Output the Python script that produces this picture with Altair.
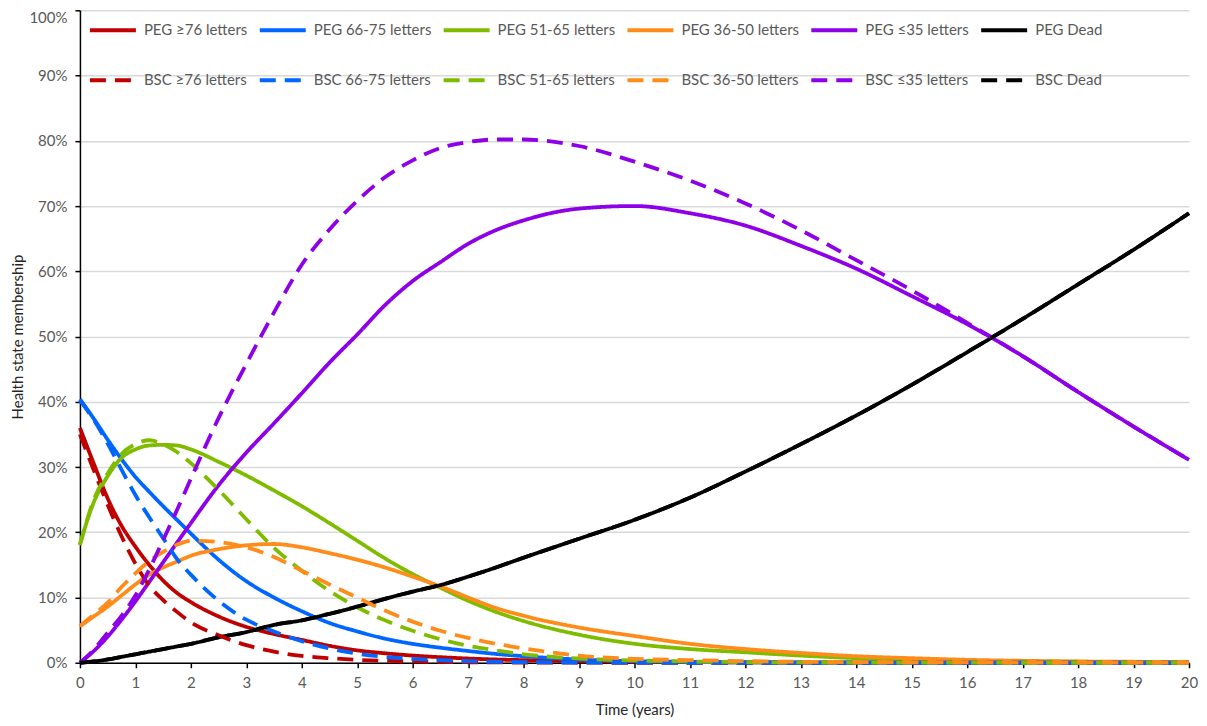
import altair as alt
import pandas as pd

# ---- data (percent of cohort) ----
time = [0, 0.25, 0.5, 0.75, 1, 1.25, 1.5, 1.75, 2, 2.5, 3, 3.5, 4, 4.5, 5, 5.5, 6, 6.5, 7, 7.5, 8,
        9, 10, 11, 12, 13, 14, 15, 16, 17, 18, 19, 20]

peg_76 = [36, 30.5, 25.2, 21.0, 17.8, 15.0, 12.6, 10.7, 9.3, 7.1, 5.5, 4.4, 3.5, 2.6, 1.9, 1.45, 1.1, 0.85, 0.65, 0.5, 0.4,
          0.25, 0.15, 0.1, 0.05, 0.03, 0.02, 0.01, 0, 0, 0, 0, 0]
peg_66 = [40.4, 37.4, 34.2, 31.2, 28.5, 26.2, 24.0, 21.9, 19.8, 15.8, 12.5, 10.0, 7.9, 6.1, 4.8, 3.7, 2.9, 2.3, 1.8, 1.35, 1.0,
          0.5, 0.25, 0.12, 0.06, 0.03, 0.01, 0, 0, 0, 0, 0, 0]
peg_51 = [18.2, 24.6, 28.6, 31.4, 32.7, 33.3, 33.4, 33.3, 32.7, 30.8, 28.7, 26.4, 24.0, 21.4, 18.7, 16.0, 13.6, 11.5, 9.5, 7.8, 6.4,
          4.3, 2.9, 2.1, 1.6, 1.1, 0.7, 0.45, 0.3, 0.2, 0.15, 0.1, 0.1]
peg_36 = [5.6, 7.1, 8.6, 10.3, 12.0, 13.5, 14.6, 15.5, 16.4, 17.4, 18.0, 18.2, 17.7, 16.8, 15.8, 14.6, 13.2, 11.7, 10.0, 8.4, 7.2,
          5.4, 4.1, 2.9, 2.1, 1.5, 1.0, 0.7, 0.45, 0.3, 0.2, 0.15, 0.1]
peg_35 = [0, 1.8, 4.0, 6.6, 9.4, 12.4, 15.4, 18.4, 21.4, 27.2, 32.2, 36.7, 41.3, 46.0, 50.3, 54.8, 58.5, 61.4, 64.2, 66.3, 67.8,
          69.6, 70.0, 68.9, 67.0, 63.9, 60.4, 56.2, 51.9, 47.0, 41.5, 36.2, 31.1]
peg_dead = [0, 0.2, 0.5, 0.9, 1.3, 1.7, 2.1, 2.5, 2.9, 3.9, 4.7, 5.8, 6.5, 7.5, 8.6, 9.8, 10.9, 11.9, 13.2, 14.6, 16.1,
            19.0, 21.9, 25.3, 29.3, 33.5, 37.9, 42.6, 47.6, 52.7, 58.0, 63.3, 68.9]

bsc_76 = [35, 29.5, 24.2, 19.4, 15.2, 11.8, 9.6, 7.8, 6.2, 4.2, 2.7, 1.7, 1.05, 0.7, 0.45, 0.3, 0.2, 0.12, 0.08, 0.05, 0.03,
          0.01, 0, 0, 0, 0, 0, 0, 0, 0, 0, 0, 0]
bsc_66 = [40.2, 37.2, 33.6, 29.6, 25.7, 22.3, 19.1, 15.9, 13.5, 9.5, 6.6, 4.8, 3.3, 2.2, 1.4, 0.9, 0.6, 0.4, 0.25, 0.15, 0.1,
          0.03, 0.01, 0, 0, 0, 0, 0, 0, 0, 0, 0, 0]
bsc_51 = [18.0, 25.0, 29.0, 32.0, 33.5, 34.1, 33.5, 32.3, 30.6, 26.5, 22.0, 17.6, 14.1, 11.0, 8.5, 6.5, 4.9, 3.6, 2.6, 1.9, 1.3,
          0.65, 0.35, 0.2, 0.1, 0.05, 0.03, 0.02, 0.01, 0, 0, 0, 0]
bsc_36 = [5.6, 7.4, 9.2, 11.6, 13.7, 15.6, 17.0, 18.1, 18.7, 18.5, 17.7, 16.2, 14.1, 12.0, 10.0, 8.0, 6.3, 4.9, 3.8, 2.9, 2.2,
          1.1, 0.6, 0.4, 0.25, 0.15, 0.1, 0.07, 0.05, 0.03, 0.02, 0.01, 0]
bsc_35 = [0, 2.0, 4.6, 7.2, 10.3, 14.3, 18.8, 23.4, 28.2, 37.5, 45.8, 53.7, 61.0, 66.4, 70.8, 74.4, 77.0, 78.9, 79.8, 80.2, 80.2,
          79.2, 76.8, 73.9, 70.4, 66.3, 61.7, 57.1, 52.1, 47.0, 41.5, 36.2, 31.1]
bsc_dead = [0, 0.2, 0.5, 0.9, 1.3, 1.7, 2.1, 2.5, 2.9, 3.9, 4.7, 5.8, 6.5, 7.5, 8.6, 9.8, 10.9, 11.9, 13.2, 14.6, 16.1,
            19.0, 21.9, 25.3, 29.3, 33.5, 37.9, 42.6, 47.6, 52.7, 58.0, 63.3, 68.9]

series_names = ["PEG ≥76 letters", "PEG 66-75 letters", "PEG 51-65 letters", "PEG 36-50 letters",
                "PEG ≤35 letters", "PEG Dead",
                "BSC ≥76 letters", "BSC 66-75 letters", "BSC 51-65 letters", "BSC 36-50 letters",
                "BSC ≤35 letters", "BSC Dead"]
series_values = [peg_76, peg_66, peg_51, peg_36, peg_35, peg_dead,
                 bsc_76, bsc_66, bsc_51, bsc_36, bsc_35, bsc_dead]

palette = ["#C00000", "#0066FF", "#7FBC00", "#FF8C1A", "#8E00E8", "#000000"]
colors = palette + palette
dashes = [[1, 0]] * 6 + [[16, 9]] * 6

rows = []
for name, vals in zip(series_names, series_values):
    for t, v in zip(time, vals):
        rows.append({"time": t, "value": v / 100.0, "series": name})
df = pd.DataFrame(rows)

legend = alt.Legend(
    title=None, orient="none", legendX=8, legendY=-5, columns=6, direction="horizontal",
    symbolType="stroke", symbolSize=2116, symbolStrokeWidth=4,
    labelFont="Lato", labelFontSize=15, labelColor="#595959", labelOffset=6, labelLimit=400,
    columnPadding=4, rowPadding=17, padding=0,
)

chart = alt.Chart(df).mark_line(strokeWidth=3.8, interpolate="monotone").encode(
    x=alt.X("time:Q",
            scale=alt.Scale(domain=[0, 20], nice=False, zero=False),
            axis=alt.Axis(values=list(range(21)), title="Time (years)", grid=False,
                          format="d", labelFlush=False, labelPadding=8, titlePadding=12)),
    y=alt.Y("value:Q",
            scale=alt.Scale(domain=[0, 1], nice=False),
            axis=alt.Axis(values=[i / 10 for i in range(11)], format=".0%",
                          title="Health state membership", grid=True, labelFlush=False,
                          labelBaseline={"condition": {"test": "datum.value >= 0.999", "value": "top"},
                                         "value": "middle"},
                          labelPadding=8, titlePadding=3)),
    color=alt.Color("series:N", scale=alt.Scale(domain=series_names, range=colors), legend=legend),
    strokeDash=alt.StrokeDash("series:N", scale=alt.Scale(domain=series_names, range=dashes), legend=legend),
).properties(
    width=1110, height=653,
    padding={"left": 72, "top": 2, "right": 10, "bottom": 55},
    autosize="none",
).configure_view(
    stroke=None
).configure_axis(
    labelFont="Lato", labelFontSize=15, labelColor="#595959",
    titleFont="Lato", titleFontSize=15, titleColor="#262626", titleFontWeight="normal",
    domainColor="#000000", domainWidth=1.5, tickColor="#000000", tickWidth=1.5, tickSize=5,
    gridColor="#D9D9D9", gridWidth=1.5,
)

chart.save("out.html", embed_options={"renderer": "svg", "actions": False})
